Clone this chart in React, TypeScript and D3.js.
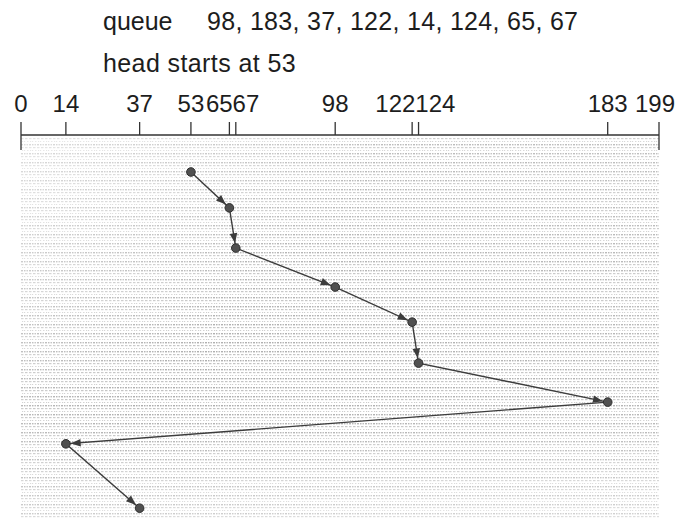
import React from "react";
import * as d3 from "d3";

// ---- data ----
const queue = [98, 183, 37, 122, 14, 124, 65, 67];
const headStart = 53;
const serviceOrder = [53, 65, 67, 98, 122, 124, 183, 14, 37];
// vertical position (time step) of each serviced request
const serviceStep = [0, 0.92, 1.95, 2.95, 3.85, 4.9, 5.9, 6.97, 8.62];
const tickValues = [0, 14, 37, 53, 65, 67, 98, 122, 124, 183, 199];
const cylinderDomain = [0, 199];

const W = 681;
const H = 525;
const FONT = "'Liberation Sans', Arial, Helvetica, sans-serif";

export default function App() {
  const x = d3.scaleLinear().domain(cylinderDomain).range([21, 659]);
  const y = d3.scaleLinear().domain([0, 8]).range([172, 484]);

  const axisY = 135;
  const tickTop = 122;
  const digitW = 13.35;

  // label placement: center on tick, resolve overlaps by grouping
  type G = { vals: number[]; desired: number[]; width: number; center: number };
  let groups: G[] = tickValues.map((v) => {
    const w = String(v).length * digitW;
    return { vals: [v], desired: [x(v)], width: w, center: x(v) };
  });
  let merged = true;
  while (merged) {
    merged = false;
    for (let i = 0; i < groups.length - 1; i++) {
      const a = groups[i];
      const b = groups[i + 1];
      if (a.center + a.width / 2 > b.center - b.width / 2) {
        const desired = a.desired.concat(b.desired);
        const g: G = {
          vals: a.vals.concat(b.vals),
          desired,
          width: a.width + b.width,
          center: d3.mean(desired) as number,
        };
        groups.splice(i, 2, g);
        merged = true;
        break;
      }
    }
  }
  const labels: { v: number; cx: number }[] = [];
  groups.forEach((g) => {
    let left = g.center - g.width / 2;
    if (left + g.width > 675) left = 675 - g.width;
    if (left < 10) left = 10;
    g.vals.forEach((v) => {
      const w = String(v).length * digitW;
      labels.push({ v, cx: left + w / 2 });
      left += w;
    });
  });

  const pts = serviceOrder.map((v, i) => [x(v), y(serviceStep[i])] as [number, number]);
  const line = d3.line()(pts) as string;

  const r = 4.3;
  const arrows = pts.slice(1).map((p, i) => {
    const a = pts[i];
    const dx = p[0] - a[0];
    const dy = p[1] - a[1];
    const len = Math.hypot(dx, dy);
    const ux = dx / len;
    const uy = dy / len;
    const tipX = p[0] - ux * (r + 0.5);
    const tipY = p[1] - uy * (r + 0.5);
    const L = 10;
    const hw = 3.8;
    const bx = tipX - ux * L;
    const by = tipY - uy * L;
    return `M${tipX},${tipY}L${bx - uy * hw},${by + ux * hw}L${bx + uy * hw},${by - ux * hw}Z`;
  });

  const bgX = x(cylinderDomain[0]);
  const bgW = x(cylinderDomain[1]) - bgX;

  return (
    <svg
      width={W}
      height={H}
      style={{ position: "absolute", left: 0, top: 0, background: "#fff" }}
      fontFamily={FONT}
    >
      <defs>
        <pattern id="halftone" width="8" height="9" patternUnits="userSpaceOnUse">
          <rect x="0" y="0" width="1.5" height="1.4" fill="#a8a8a8" />
          <rect x="2.5" y="0" width="1.5" height="1.4" fill="#b0b0b0" />
          <rect x="5" y="0" width="2" height="1.4" fill="#a8a8a8" />
          <rect x="1" y="3" width="2.5" height="1.2" fill="#bdbdbd" />
          <rect x="5" y="3" width="2.5" height="1.2" fill="#c2c2c2" />
          <rect x="0" y="6" width="1.2" height="1" fill="#c8c8c8" />
          <rect x="3" y="6" width="1.5" height="1" fill="#cccccc" />
          <rect x="6" y="6" width="1.2" height="1" fill="#c8c8c8" />
        </pattern>
        <linearGradient id="fade" x1="0" y1="0" x2="1" y2="0.6">
          <stop offset="0" stopColor="#fff" stopOpacity="0.5" />
          <stop offset="0.45" stopColor="#fff" stopOpacity="0.05" />
          <stop offset="1" stopColor="#fff" stopOpacity="0.15" />
        </linearGradient>
        <linearGradient id="fadeV" x1="0" y1="0" x2="0" y2="1">
          <stop offset="0" stopColor="#fff" stopOpacity="0.2" />
          <stop offset="0.7" stopColor="#fff" stopOpacity="0" />
          <stop offset="1" stopColor="#fff" stopOpacity="0.4" />
        </linearGradient>
      </defs>

      {/* header text */}
      <text x={103} y={30} fontSize={25} fill="#1d1d1d">queue</text>
      <text x={207} y={30} fontSize={25} letterSpacing={0.3} fill="#1d1d1d">
        {queue.join(", ")}
      </text>
      <text x={103} y={72} fontSize={25} letterSpacing={0.4} fill="#1d1d1d">
        {`head starts at ${headStart}`}
      </text>

      {/* textured background */}
      <rect x={bgX} y={137} width={bgW} height={381} fill="url(#halftone)" />
      <rect x={bgX} y={137} width={bgW} height={381} fill="url(#fade)" />
      <rect x={bgX} y={137} width={bgW} height={381} fill="url(#fadeV)" />

      {/* axis */}
      <line x1={x(0)} x2={x(199)} y1={axisY} y2={axisY} stroke="#333" strokeWidth={1.6} />
      {tickValues.map((v) => {
        const end = v === cylinderDomain[0] || v === cylinderDomain[1];
        return (
          <line
            key={v}
            x1={x(v)}
            x2={x(v)}
            y1={tickTop}
            y2={end ? 150 : axisY}
            stroke="#333"
            strokeWidth={1.3}
          />
        );
      })}
      {labels.map((l) => (
        <text key={l.v} x={l.cx} y={112} fontSize={24} textAnchor="middle" fill="#1d1d1d">
          {l.v}
        </text>
      ))}

      {/* head movement */}
      <path d={line} fill="none" stroke="#3c3c3c" strokeWidth={1.4} />
      {arrows.map((d, i) => (
        <path key={i} d={d} fill="#3c3c3c" />
      ))}
      {pts.map((p, i) => (
        <circle key={i} cx={p[0]} cy={p[1]} r={r} fill="#505050" stroke="#2e2e2e" strokeWidth={1} />
      ))}
    </svg>
  );
}
